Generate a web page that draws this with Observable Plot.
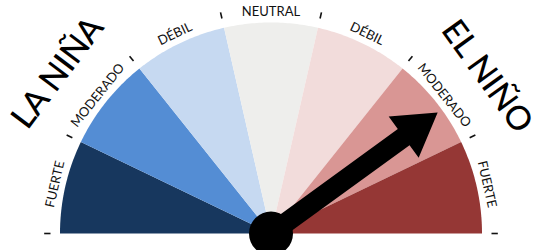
<!DOCTYPE html>
<html>
<head>
<meta charset="utf-8">
<script src="https://cdn.jsdelivr.net/npm/d3@7"></script>
<script src="https://cdn.jsdelivr.net/npm/@observablehq/plot@0.6"></script>
<style>
  body { margin: 0; background: #fff; }
  #chart svg { display: block; }
</style>
</head>
<body>
<div id="chart"></div>
<script>
// ---- data ----
const sectorLabels = ["FUERTE", "MODERADO", "DÉBIL", "NEUTRAL", "DÉBIL", "MODERADO", "FUERTE"];
const sectorColors = ["#17375e", "#548dd4", "#c6d9f1", "#eeeeec", "#f2dcdb", "#d99694", "#953735"];
const sideLabels = ["LA NIÑA", "EL NIÑO"];
const sideAngles = [37, 144];          // degrees from the left end of the gauge
const pointerValue = 5.6;              // position on the 0–7 sector scale

// ---- geometry helpers (unit radius, center at 0,0) ----
const W = 547, H = 250, R = 211, CX = 270.5, CY = 233;
const n = sectorLabels.length;
const rad = d => d * Math.PI / 180;
const pt = (theta, r) => ({x: -Math.cos(rad(theta)) * r, y: Math.sin(rad(theta)) * r});

const sectorPts = [];
sectorLabels.forEach((lab, i) => {
  const a0 = i * 180 / n, a1 = (i + 1) * 180 / n;
  sectorPts.push({id: i, color: sectorColors[i], ...pt(0, 0)});
  for (let k = 0; k <= 40; k++) sectorPts.push({id: i, color: sectorColors[i], ...pt(a0 + (a1 - a0) * k / 40, 1)});
});

const labelData = sectorLabels.map((lab, i) => {
  const a = (i + 0.5) * 180 / n;
  return {text: lab, rot: a - 90, ...pt(a, 1.05)};
});

const tickData = d3.range(n + 1).map(i => {
  const a = i * 180 / n;
  const p1 = pt(a, 1.045), p2 = pt(a, 1.075);
  return {x1: p1.x, y1: p1.y, x2: p2.x, y2: p2.y};
});

const sideData = sideLabels.map((t, i) => ({text: t, rot: sideAngles[i] - 90, ...pt(sideAngles[i], 1.265)}));

// arrow polygon
const th = pointerValue / n * 180;
const u = {x: -Math.cos(rad(th)), y: Math.sin(rad(th))};
const nv = {x: Math.sin(rad(th)), y: Math.cos(rad(th))};
const w = 10 / R, hw = 25.5 / R, Lb = 164 / R, Lt = 206 / R;
const comb = (a, b) => ({x: u.x * a + nv.x * b, y: u.y * a + nv.y * b});
const arrowPts = [comb(0, -w), comb(Lb, -w), comb(Lb, -hw), comb(Lt, 0), comb(Lb, hw), comb(Lb, w), comb(0, w)];

const chart = Plot.plot({
  width: W, height: H,
  margin: 0,
  x: {domain: [-CX / R, (W - CX) / R], range: [0, W], axis: null},
  y: {domain: [-(H - CY) / R, CY / R], range: [H, 0], axis: null},
  color: {type: "identity"},
  style: {background: "#fff", overflow: "visible"},
  marks: [
    Plot.line(sectorPts, {x: "x", y: "y", z: "id", fill: "color", stroke: null, curve: "linear"}),
    Plot.link(tickData, {x1: "x1", y1: "y1", x2: "x2", y2: "y2", stroke: "#111", strokeWidth: 1.6}),
    Plot.text(labelData, {x: "x", y: "y", text: "text", rotate: "rot", fontSize: 13, fontFamily: "Lato", fill: "#111"}),
    Plot.text(sideData, {x: "x", y: "y", text: "text", rotate: "rot", fontSize: 33, fontFamily: "Lato", fontWeight: 500, fill: "#000"}),
    Plot.line(arrowPts, {x: "x", y: "y", fill: "#000", stroke: null, curve: "linear"}),
    Plot.dot([{x: 0, y: 0}], {x: "x", y: "y", r: 22, fill: "#000", stroke: null})
  ]
});
document.getElementById("chart").append(chart);
</script>
</body>
</html>
